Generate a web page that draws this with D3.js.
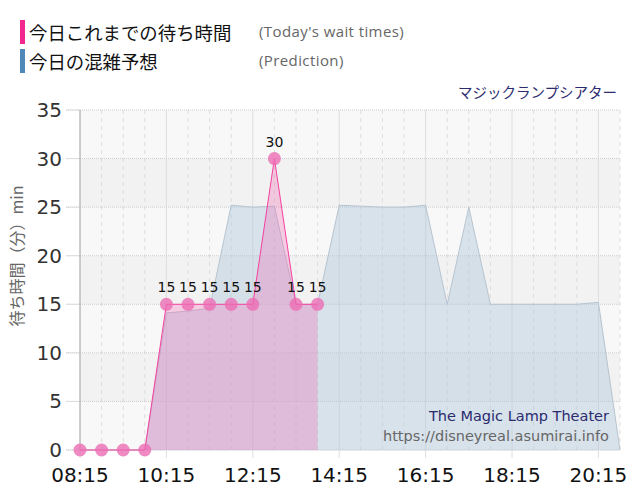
<!DOCTYPE html>
<html><head><meta charset="utf-8">
<script src="https://cdn.jsdelivr.net/npm/d3@7"></script>
<style>
body{margin:0;background:#fff;}
svg{display:block;}
</style></head>
<body>
<svg id="c" width="640" height="500"></svg>
<script>
// ---- data ----
const actualTimes = ["08:15","08:45","09:15","09:45","10:15","10:45","11:15","11:45","12:15","12:45","13:15","13:45"];
const actualWait  = [0,0,0,0,15,15,15,15,15,30,15,15];
const predTimes = ["08:15","08:45","09:15","09:45","10:15","10:45","11:15","11:45","12:15","12:45","13:15","13:45","14:15","14:45","15:15","15:45","16:15","16:45","17:15","17:45","18:15","18:45","19:15","19:45","20:15","20:45"];
const predWait  = [0,0,0,0,14.1,14.3,14.6,25.2,25,25.1,15,15,25.2,25.1,25,25,25.2,15,25,15,15,15,15,15,15.2,0];
const xTickLabels = ["08:15","10:15","12:15","14:15","16:15","18:15","20:15"];
const yTicks = [0,5,10,15,20,25,30,35];
const legendLabels = ["今日これまでの待ち時間","今日の混雑予想"];
const legendSub = ["(Today's wait times)","(Prediction)"];
const titleText = "マジックランプシアター";
const footerName = "The Magic Lamp Theater";
const footerUrl = "https://disneyreal.asumirai.info";
const yLabel = "待ち時間（分）min";

const toMin = s => { const [h,m] = s.split(":").map(Number); return h*60+m; };
const svg = d3.select("#c");
const L = 80, R = 620, T = 110, B = 450;
const x = d3.scaleLinear().domain([toMin("08:15"), toMin("20:45")]).range([L, R]);
const y = d3.scaleLinear().domain([0, 35]).range([B, T]);
const num = "'DejaVu Sans', Verdana, sans-serif";
const jp = "'Noto Sans CJK JP', sans-serif";

// bands
const bands = d3.range(0, 35, 5);
svg.append("g").selectAll("rect").data(bands).join("rect")
  .attr("x", L).attr("width", R - L)
  .attr("y", d => y(d + 5)).attr("height", d => y(d) - y(d + 5))
  .attr("fill", (d, i) => i % 2 === 0 ? "#f8f8f8" : "#f2f2f2");

// vertical grid every 30 min
const vGrid = d3.range(toMin("08:15"), toMin("20:45") + 1, 30);
const labelMins = xTickLabels.map(toMin);
svg.append("g").selectAll("line").data(vGrid).join("line")
  .attr("x1", d => x(d)).attr("x2", d => x(d))
  .attr("y1", T).attr("y2", d => labelMins.includes(d) ? B + 8 : B)
  .attr("stroke", d => labelMins.includes(d) ? "#dedede" : "#dddddd")
  .attr("stroke-dasharray", d => labelMins.includes(d) ? null : "4,4")
  .attr("stroke-width", 1);

// horizontal grid
svg.append("g").selectAll("line").data(yTicks).join("line")
  .attr("x1", L - 14).attr("x2", R)
  .attr("y1", d => y(d)).attr("y2", d => y(d))
  .attr("stroke", "#cccccc").attr("stroke-dasharray", "1,1");
svg.append("g").selectAll("line").data(yTicks).join("line")
  .attr("x1", L - 14).attr("x2", L)
  .attr("y1", d => y(d)).attr("y2", d => y(d))
  .attr("stroke", "#dddddd");

// axes lines
svg.append("line").attr("x1", L).attr("x2", L).attr("y1", T).attr("y2", B).attr("stroke", "#aaaaaa");
svg.append("line").attr("x1", L).attr("x2", R).attr("y1", B).attr("y2", B).attr("stroke", "#e2e2e2");

// prediction area
const pred = predTimes.map((t, i) => ({ t: toMin(t), v: predWait[i] }));
const predArea = d3.area().x(d => x(d.t)).y0(y(0)).y1(d => y(d.v));
const predLine = d3.line().x(d => x(d.t)).y(d => y(d.v));
svg.append("path").datum(pred).attr("d", predArea).attr("fill", "rgba(178,200,220,0.45)");
svg.append("path").datum(pred).attr("d", predLine).attr("fill", "none").attr("stroke", "#b6c4d0").attr("stroke-width", 1);

// actual area
const act = actualTimes.map((t, i) => ({ t: toMin(t), v: actualWait[i] }));
const actArea = d3.area().x(d => x(d.t)).y0(y(0)).y1(d => y(d.v));
const actLine = d3.line().x(d => x(d.t)).y(d => y(d.v));
svg.append("path").datum(act).attr("d", actArea).attr("fill", "rgba(238,110,180,0.32)");
svg.append("path").datum(act).attr("d", actLine).attr("fill", "none").attr("stroke", "#f5409f").attr("stroke-width", 1);
svg.append("g").selectAll("circle").data(act).join("circle")
  .attr("cx", d => x(d.t)).attr("cy", d => y(d.v)).attr("r", 6.5)
  .attr("fill", "#ec6db4").attr("fill-opacity", 0.8);
svg.append("g").selectAll("text").data(act.filter(d => d.v > 0)).join("text")
  .attr("x", d => x(d.t)).attr("y", d => y(d.v) - 12)
  .attr("text-anchor", "middle").attr("font-family", num).attr("font-size", 14)
  .attr("fill", "#111").text(d => d.v);

// y tick labels
svg.append("g").selectAll("text").data(yTicks).join("text")
  .attr("x", 62).attr("y", d => y(d) + 7)
  .attr("text-anchor", "end").attr("font-family", num).attr("font-size", 20)
  .attr("fill", "#333").text(d => d);

// x tick labels
svg.append("g").selectAll("text").data(xTickLabels).join("text")
  .attr("x", d => x(toMin(d))).attr("y", 482)
  .attr("text-anchor", "middle").attr("font-family", num).attr("font-size", 20)
  .attr("fill", "#111").text(d => d);

// y label
svg.append("text").attr("transform", "translate(23,256) rotate(-90)")
  .attr("text-anchor", "middle").attr("font-family", jp).attr("font-size", 16)
  .attr("fill", "#666").text(yLabel);

// legend
const legColors = ["#f0288f", "#4f88b8"];
legendLabels.forEach((lab, i) => {
  const yy = 20 + i * 29;
  svg.append("rect").attr("x", 20).attr("y", yy).attr("width", 5).attr("height", 24).attr("fill", legColors[i]);
  svg.append("text").attr("x", 29).attr("y", yy + 20).attr("font-family", jp).attr("font-size", 18.4)
    .attr("fill", "#111").text(lab);
  svg.append("text").attr("x", 259).attr("y", yy + 17).attr("font-family", "'Open Sans', sans-serif").attr("font-size", 15)
    .attr("letter-spacing", 0.4).attr("fill", "#666").text(legendSub[i]);
});

// title
svg.append("text").attr("x", 617).attr("y", 98).attr("text-anchor", "end")
  .attr("font-family", jp).attr("font-size", 14.5).attr("fill", "#2b2b6e").text(titleText);

// footer
svg.append("text").attr("x", 609).attr("y", 421).attr("text-anchor", "end")
  .attr("font-family", num).attr("font-size", 14.5).attr("fill", "#2b2b6e").text(footerName);
svg.append("text").attr("x", 609).attr("y", 441).attr("text-anchor", "end")
  .attr("font-family", num).attr("font-size", 14.5).attr("fill", "#666").text(footerUrl);
</script>
</body></html>
